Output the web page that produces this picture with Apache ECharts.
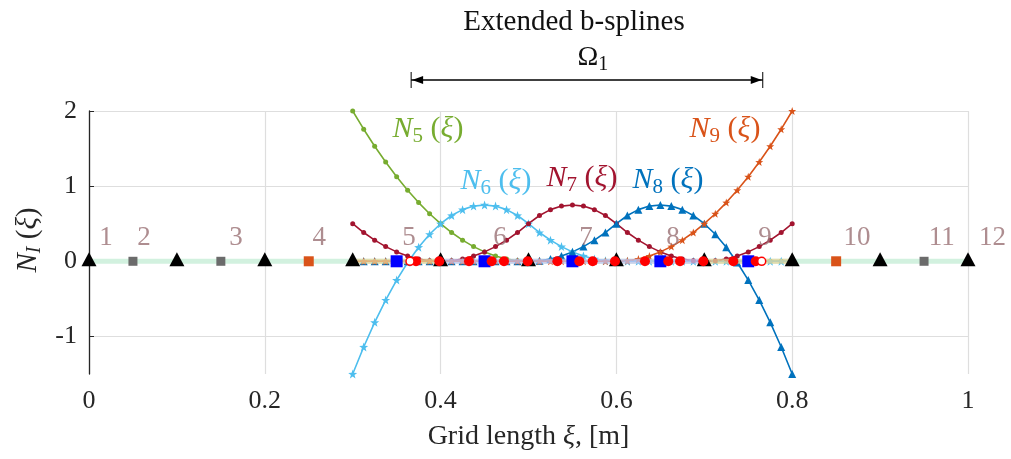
<!DOCTYPE html>
<html><head><meta charset="utf-8">
<script src="https://cdn.jsdelivr.net/npm/echarts@6/dist/echarts.min.js"></script>
<style>html,body{margin:0;padding:0;background:#fff}#c{width:1011px;height:459px}</style>
</head><body><div id="c"></div>
<script>
// ---- data ----
const xSamples = [0.3,0.3125,0.325,0.3375,0.35,0.3625,0.375,0.3875,0.4,0.4125,0.425,0.4375,0.45,0.4625,0.475,0.4875,0.5,0.5125,0.525,0.5375,0.55,0.5625,0.575,0.5875,0.6,0.6125,0.625,0.6375,0.65,0.6625,0.675,0.6875,0.7,0.7125,0.725,0.7375,0.75,0.7625,0.775,0.7875,0.8];
const N5 = [2,1.7578,1.5313,1.3203,1.125,0.9453,0.7813,0.6328,0.5,0.3828,0.2813,0.1953,0.125,0.0703,0.0313,0.0078,0,0,0,0,0,0,0,0,0,0,0,0,0,0,0,0,0,0,0,0,0,0,0,0,0];
const N6 = [-1.5,-1.1406,-0.8125,-0.5156,-0.25,-0.0156,0.1875,0.3594,0.5,0.6094,0.6875,0.7344,0.75,0.7344,0.6875,0.6094,0.5,0.3828,0.2813,0.1953,0.125,0.0703,0.0313,0.0078,0,0,0,0,0,0,0,0,0,0,0,0,0,0,0,0,0];
const N7 = [0.5,0.3828,0.2813,0.1953,0.125,0.0703,0.0313,0.0078,0,0.0078,0.0313,0.0703,0.125,0.1953,0.2813,0.3828,0.5,0.6094,0.6875,0.7344,0.75,0.7344,0.6875,0.6094,0.5,0.3828,0.2813,0.1953,0.125,0.0703,0.0313,0.0078,0,0.0078,0.0313,0.0703,0.125,0.1953,0.2813,0.3828,0.5];
const N8 = [0,0,0,0,0,0,0,0,0,0,0,0,0,0,0,0,0,0.0078,0.0313,0.0703,0.125,0.1953,0.2813,0.3828,0.5,0.6094,0.6875,0.7344,0.75,0.7344,0.6875,0.6094,0.5,0.3594,0.1875,-0.0156,-0.25,-0.5156,-0.8125,-1.1406,-1.5];
const N9 = [0,0,0,0,0,0,0,0,0,0,0,0,0,0,0,0,0,0,0,0,0,0,0,0,0,0.0078,0.0313,0.0703,0.125,0.1953,0.2813,0.3828,0.5,0.6328,0.7813,0.9453,1.125,1.3203,1.5313,1.7578,2];
const gridNodes = [0,0.1,0.2,0.3,0.4,0.5,0.6,0.7,0.8,0.9,1];
const grayCentres = [0.05,0.15,0.95];
const orangeCentres = [0.25,0.85];
const blueCentres = [0.35,0.45,0.55,0.65,0.75];
const materialPoints = [0.372,0.3985,0.4323,0.4581,0.4721,0.4991,0.5328,0.5578,0.573,0.5984,0.6325,0.659,0.6724,0.6989,0.733,0.7585];
const boundaryPoints = [0.3652,0.7653];
const cutCells = [[0.3,0.4],[0.7,0.8]];
const innerCells = [[0.4,0.7]];
const gridExtent = [0,1];
const omega = [0.3665,0.7665];
const nodeLabels = ['1','2','3','4','5','6','7','8','9','10','11','12'];
const nodeLabelX = [0.0193,0.0626,0.1672,0.262,0.364,0.4676,0.5654,0.6644,0.769,0.8737,0.970,1.028];
const nodeLabelY = 0.307;
const yTicks = [-1,0,1,2];

// ---- chart ----
const FONT = "'Liberation Serif','DejaVu Serif',serif";
const C = {N5:'#77AC30',N6:'#4DBEEE',N7:'#A2142F',N8:'#0072BD',N9:'#D95319'};
const STAR = 'path://M0,-10L2.35,-3.24L9.51,-3.09L3.8,1.24L5.88,8.09L0,4L-5.88,8.09L-3.8,1.24L-9.51,-3.09L-2.35,-3.24Z';
const pairs = arr => xSamples.map((x,i)=>[x,arr[i]]);
const chart = echarts.init(document.getElementById('c'), null, {renderer:'canvas'});

function curve(name, arr, color, symbol, size){
  return [
    {type:'line', name, data:pairs(arr), showSymbol:false, symbol:'none', z:3,
     lineStyle:{color, width:1.6}, silent:true, animation:false},
    {type:'scatter', name:name+'m', data:pairs(arr), symbol, symbolSize:size, z:6,
     itemStyle:{color, opacity:1}, silent:true, animation:false}
  ];
}
function seg(pairsList, color, width, z, op){
  return pairsList.map(p=>({type:'line', data:[[p[0],0],[p[1],0]], symbol:'none', z,
    lineStyle:{color, width, opacity:op}, silent:true, animation:false}));
}
const zeroPts = arr => arr.map(x=>[x,0]);
const sc = (data, symbol, size, style, z, extra) => Object.assign({type:'scatter', data, symbol, symbolSize:size, z,
  itemStyle:Object.assign({opacity:1}, style), silent:true, animation:false}, extra||{});

const series = [].concat(
  seg([gridExtent], '#d2f1df', 5, 1, 1),
  curve('N5', N5, C.N5, 'circle', 5),
  curve('N6', N6, C.N6, STAR, 9),
  curve('N7', N7, C.N7, 'circle', 5),
  curve('N8', N8, C.N8, 'triangle', 8),
  curve('N9', N9, C.N9, STAR, 8),
  seg(cutCells, '#e6d49c', 5, 7, 0.75),
  seg(innerCells, '#c4c4f0', 5, 7, 0.75),
  [
    sc(zeroPts(gridNodes), 'triangle', [15,14], {color:'#000'}, 8, {symbolOffset:[0,-2]}),
    sc(zeroPts(grayCentres), 'rect', 9, {color:'#6b6b6b'}, 8),
    sc(zeroPts(orangeCentres), 'rect', 10, {color:'#D95319'}, 8),
    sc(zeroPts(blueCentres), 'rect', 12, {color:'#0000FF'}, 8),
    sc(zeroPts(materialPoints), 'circle', 10, {color:'#FF0000'}, 9),
    sc(zeroPts(boundaryPoints), 'circle', 8, {color:'#fff', borderColor:'#FF0000', borderWidth:1.5}, 9),
    {type:'scatter', clip:false, data:nodeLabelX.map((x,i)=>({value:[x,nodeLabelY], name:nodeLabels[i]})),
     symbolSize:0, z:10, silent:true, animation:false,
     label:{show:true, position:'inside', formatter:p=>p.name, color:'#9a7074', fontFamily:FONT, fontSize:27}}
  ]
);

chart.setOption({
  animation:false,
  backgroundColor:'#fff',
  grid:{left:89, right:43, top:111, bottom:85},
  xAxis:{type:'value', min:0, max:1, interval:0.2,
    axisLine:{lineStyle:{color:'#262626', width:1.3}},
    axisTick:{show:true, inside:true, length:5, lineStyle:{color:'#262626'}},
    axisLabel:{color:'#262626', fontFamily:FONT, fontSize:26, margin:14},
    splitLine:{show:true, lineStyle:{color:'#dedede', width:1.2}},
    name:'{a|Grid length }{i|ξ}{a|, [m]}', nameLocation:'middle', nameGap:49,
    nameTextStyle:{rich:{a:{fontFamily:FONT, fontSize:28, color:'#262626'}, i:{fontFamily:FONT, fontSize:28, fontStyle:'italic', color:'#262626'}}}
  },
  yAxis:{type:'value', min:-1.5, max:2,
    axisLine:{show:true, lineStyle:{color:'#262626', width:1.3}},
    axisTick:{show:true, inside:true, length:5, customValues:yTicks, lineStyle:{color:'#262626'}},
    axisLabel:{color:'#262626', fontFamily:FONT, fontSize:26, margin:12, customValues:yTicks},
    splitLine:{show:true, lineStyle:{color:'#dedede', width:1.2}}
  },
  series
});

// annotations
const px = v => chart.convertToPixel({gridIndex:0}, [v,0])[0];
const L = px(omega[0]), R = px(omega[1]);
const AY = 80;
function richN(sub, color, x, y){
  return {type:'text', x, y, z:20, silent:true, style:{
    text:'{n|N}{s|'+sub+'}{p| (}{i|ξ}{p|)}', align:'center', verticalAlign:'middle',
    rich:{
      n:{fontFamily:FONT, fontSize:30, fontStyle:'italic', fill:color, color},
      s:{fontFamily:FONT, fontSize:21, fill:color, color, padding:[14,0,0,0]},
      p:{fontFamily:FONT, fontSize:30, fill:color, color},
      i:{fontFamily:FONT, fontSize:30, fontStyle:'italic', fill:color, color}
    }}};
}
chart.setOption({graphic:[
  {type:'text', x:574, y:22, silent:true, style:{text:'Extended b-splines', font:'29px '+FONT, fill:'#111', align:'center', verticalAlign:'middle'}},
  {type:'text', x:(L+R)/2+6, y:58, silent:true, style:{text:'{o|Ω}{s|1}', align:'center', verticalAlign:'middle',
    rich:{o:{fontFamily:FONT, fontSize:28, fill:'#111', color:'#111'}, s:{fontFamily:FONT, fontSize:20, fill:'#111', color:'#111', padding:[13,0,0,0]}}}},
  {type:'line', silent:true, shape:{x1:L, y1:AY, x2:R, y2:AY}, style:{stroke:'#000', lineWidth:1.4}},
  {type:'line', silent:true, shape:{x1:L, y1:AY-8, x2:L, y2:AY+8}, style:{stroke:'#000', lineWidth:1}},
  {type:'line', silent:true, shape:{x1:R, y1:AY-8, x2:R, y2:AY+8}, style:{stroke:'#000', lineWidth:1}},
  {type:'polygon', silent:true, shape:{points:[[L+1,AY],[L+12,AY-4],[L+12,AY+4]]}, style:{fill:'#000'}},
  {type:'polygon', silent:true, shape:{points:[[R-1,AY],[R-12,AY-4],[R-12,AY+4]]}, style:{fill:'#000'}},
  richN('5', C.N5, 428, 129),
  richN('6', C.N6, 496, 181),
  richN('7', C.N7, 582, 178),
  richN('8', C.N8, 668, 180),
  richN('9', C.N9, 725, 129),
  {type:'text', x:28, y:240, rotation:Math.PI/2, silent:true, style:{
    text:'{n|N}{s|I}{p| (}{i|ξ}{p|)}', align:'center', verticalAlign:'middle',
    rich:{
      n:{fontFamily:FONT, fontSize:29, fontStyle:'italic', fill:'#262626', color:'#262626'},
      s:{fontFamily:FONT, fontSize:20, fontStyle:'italic', fill:'#262626', color:'#262626', padding:[14,0,0,0]},
      p:{fontFamily:FONT, fontSize:29, fill:'#262626', color:'#262626'},
      i:{fontFamily:FONT, fontSize:29, fontStyle:'italic', fill:'#262626', color:'#262626'}
    }}}
]});
</script></body></html>
